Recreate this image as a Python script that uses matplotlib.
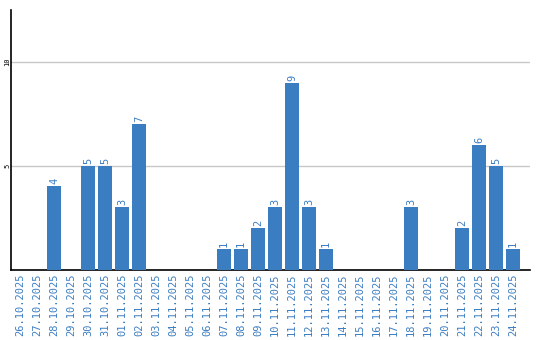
import matplotlib
matplotlib.use("Agg")
import matplotlib.pyplot as plt

dates = ["26.10.2025", "27.10.2025", "28.10.2025", "29.10.2025", "30.10.2025",
         "31.10.2025", "01.11.2025", "02.11.2025", "03.11.2025", "04.11.2025",
         "05.11.2025", "06.11.2025", "07.11.2025", "08.11.2025", "09.11.2025",
         "10.11.2025", "11.11.2025", "12.11.2025", "13.11.2025", "14.11.2025",
         "15.11.2025", "16.11.2025", "17.11.2025", "18.11.2025", "19.11.2025",
         "20.11.2025", "21.11.2025", "22.11.2025", "23.11.2025", "24.11.2025"]
values = [0, 0, 4, 0, 5, 5, 3, 7, 0, 0, 0, 0, 1, 1, 2, 3, 9, 3, 1, 0,
          0, 0, 0, 3, 0, 0, 2, 6, 5, 1]
yticks = [5, 10]

blue = "#3b7dc1"
fig = plt.figure(figsize=(5.4, 3.4), dpi=100)
ax = fig.add_axes([11/540, 70.5/340, 519/540, 259.5/340])

x = list(range(len(dates)))
ax.bar(x, values, width=0.82, color=blue, zorder=3)
for xi, v in zip(x, values):
    if v > 0:
        ax.text(xi, v + 0.1, str(v), rotation=90, ha="center", va="bottom",
                color=blue, fontsize=7.5, family="DejaVu Sans Mono")

ax.set_xlim(-0.55, 30.0)
ax.set_ylim(0, 12.5)
ax.set_yticks(yticks)
ax.set_yticklabels([str(t) for t in yticks], rotation=90, va="center",
                   fontsize=5, family="DejaVu Sans Mono")
ax.tick_params(axis="y", length=0, pad=0.5)
ax.set_xticks(x)
ax.set_xticklabels(dates, rotation=90, color=blue, fontsize=7.5,
                   family="DejaVu Sans Mono")
ax.tick_params(axis="x", length=0, pad=3)
ax.grid(axis="y", color="#c8c8c8", linewidth=1, zorder=0)
for s in ["top", "right"]:
    ax.spines[s].set_visible(False)
ax.spines["left"].set_linewidth(1.2)
ax.spines["bottom"].set_linewidth(1.2)
fig.savefig("out.png", dpi=100)
